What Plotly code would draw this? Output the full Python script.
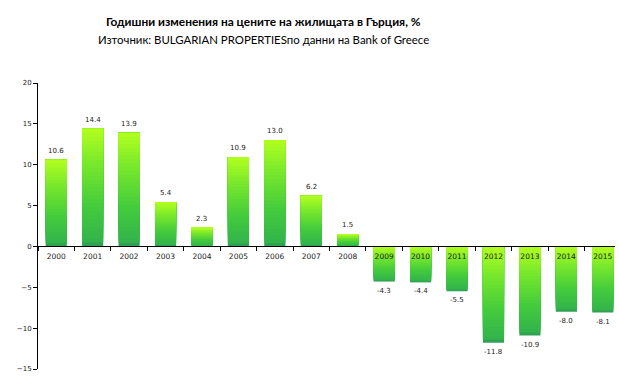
import plotly.graph_objects as go

years = [str(y) for y in range(2000, 2016)]
values = [10.6, 14.4, 13.9, 5.4, 2.3, 10.9, 13.0, 6.2, 1.5,
          -4.3, -4.4, -5.5, -11.8, -10.9, -8.0, -8.1]
y_ticks = [-15, -10, -5, 0, 5, 10, 15, 20]
title = "<b>Годишни изменения на цените на жилищата в Гърция, %</b>"
subtitle = "Източник: BULGARIAN PROPERTIESпо данни на Bank of Greece"

FONT = "DejaVu Sans"
TFONT = "Lato"
N = 30

W, H = 619, 386
ML, MR, MT, MB = 38, 4, 83, 17
PW, PH = W - ML - MR, H - MT - MB


def hex2rgb(h):
    h = h.lstrip('#')
    return [int(h[i:i + 2], 16) for i in (0, 2, 4)]


stops = [(0.0, hex2rgb('#2e9656')), (0.05, hex2rgb('#33b44b')),
         (0.35, hex2rgb('#45cc3c')), (0.7, hex2rgb('#78e82c')),
         (1.0, hex2rgb('#b2ff1f'))]


def color_at(t):
    for (t0, c0), (t1, c1) in zip(stops[:-1], stops[1:]):
        if t0 <= t <= t1:
            f = (t - t0) / (t1 - t0) if t1 > t0 else 0
            c = [round(a + (b - a) * f) for a, b in zip(c0, c1)]
            return 'rgb(%d,%d,%d)' % tuple(c)
    return 'rgb(%d,%d,%d)' % tuple(stops[-1][1])


fig = go.Figure()
for k in range(N):
    frac = k / N
    bases, lens = [], []
    for v in values:
        if v >= 0:
            bases.append(v * frac)
            lens.append(v * (1 - frac))
        else:
            bases.append(0)
            lens.append(v * (1 - frac))
    fig.add_trace(go.Bar(
        x=years, y=lens, base=bases,
        marker=dict(color=color_at((k + 0.5) / N), line=dict(width=0)),
        width=0.58, hoverinfo='skip', showlegend=False))

annotations = []
for i, v in enumerate(values):
    annotations.append(dict(
        x=i, y=v, xref='x', yref='y', text='%.1f' % v, showarrow=False,
        yshift=9 if v >= 0 else -9, xanchor='center', yanchor='middle',
        font=dict(family=FONT, size=7, color='#222222')))

annotations += [
    dict(text=title, x=(263 - ML) / PW, y=(H - MB - 22) / PH,
         xref='paper', yref='paper', xanchor='center', yanchor='middle',
         showarrow=False, font=dict(family=TFONT, size=11.9, color='black')),
    dict(text=subtitle, x=(263 - ML) / PW, y=(H - MB - 40) / PH,
         xref='paper', yref='paper', xanchor='center', yanchor='middle',
         showarrow=False, font=dict(family=TFONT, size=11.4, color='black')),
]

fig.update_layout(
    width=W, height=H,
    margin=dict(l=ML, r=MR, t=MT, b=MB, autoexpand=False),
    paper_bgcolor='white', plot_bgcolor='white',
    barmode='overlay',
    font=dict(family=FONT, size=8, color='#222222'),
    xaxis=dict(type='category', range=[-0.5, 15.335],
               anchor='free', position=15 / 35,
               showline=True, linecolor='black', linewidth=1,
               ticks='outside', ticklen=4, tickcolor='black',
               tickson='boundaries', showgrid=False, zeroline=False,
               ticklabelstandoff=3,
               tickfont=dict(family=FONT, size=7.5, color='#222222')),
    yaxis=dict(range=[-15, 20], tickvals=y_ticks,
               showline=True, linecolor='black', linewidth=1,
               ticks='outside', ticklen=4, tickcolor='black',
               showgrid=False, zeroline=False,
               tickfont=dict(family=FONT, size=7, color='#222222')),
    annotations=annotations,
)

fig.write_html("out.html",
               config={'displayModeBar': False},
               post_script="document.body.style.margin='0';")
